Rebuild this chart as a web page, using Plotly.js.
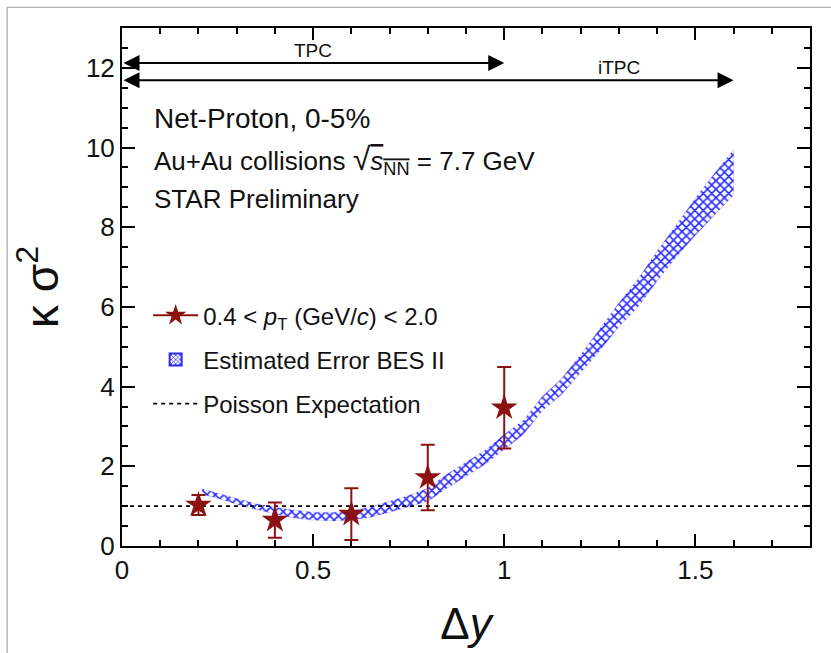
<!DOCTYPE html>
<html>
<head>
<meta charset="utf-8">
<script src="https://cdn.plot.ly/plotly-3.0.1.min.js"></script>
<style>html,body{margin:0;padding:0;background:#fff;}#chart{width:831px;height:653px;}</style>
</head>
<body>
<div id="chart"></div>
<script>
// Measured net-proton kappa*sigma^2 points
const dataX = [0.2, 0.4, 0.6, 0.8, 1.0];
const dataY = [1.03, 0.65, 0.8, 1.72, 3.47];
const dataErr = [0.25, 0.44, 0.65, 0.82, 1.02];

// Estimated error band (BES II)
const bandX = [0.21, 0.25, 0.3, 0.35, 0.4, 0.45, 0.5, 0.55, 0.6, 0.65, 0.7, 0.75, 0.8, 0.85, 0.9, 0.95, 1.0, 1.05, 1.1, 1.15, 1.2, 1.25, 1.3, 1.35, 1.4, 1.45, 1.5, 1.55, 1.6];
const bandUpper = [1.43, 1.32, 1.18, 1.06, 0.97, 0.9, 0.85, 0.84, 0.88, 0.98, 1.12, 1.27, 1.45, 1.8, 2.1, 2.4, 2.8, 3.15, 3.75, 4.2, 4.8, 5.45, 6.1, 6.7, 7.4, 8.05, 8.73, 9.35, 9.94];
const bandLower = [1.3, 1.2, 1.05, 0.92, 0.8, 0.7, 0.65, 0.63, 0.65, 0.72, 0.85, 0.98, 1.12, 1.45, 1.75, 2.05, 2.42, 2.8, 3.4, 3.8, 4.35, 4.9, 5.5, 6.0, 6.65, 7.25, 7.8, 8.3, 8.81];

// Poisson expectation
const poissonX = [0, 1.8];
const poissonY = [1, 1];

// Acceptance ranges
const tpcRange = [0, 1.0];
const itpcRange = [0, 1.6];
const tpcLevel = 12.12;
const itpcLevel = 11.69;

const red = 'rgb(140,18,18)';
const blue = 'rgb(40,40,255)';
const font = 'Liberation Sans, Arial, Helvetica, sans-serif';
const ink = '#111';

const band = {
  x: bandX.concat(bandX.slice().reverse()),
  y: bandUpper.concat(bandLower.slice().reverse()),
  type: 'scatter', mode: 'lines', fill: 'toself',
  fillcolor: 'rgba(255,255,255,0)',
  fillpattern: {shape: 'x', fgcolor: blue, bgcolor: 'rgba(255,255,255,0)', size: 6, solidity: 0.45},
  line: {color: 'rgba(40,40,255,0.35)', width: 0.5},
  showlegend: false, hoverinfo: 'skip'
};
const bandKey = {
  x: [null], y: [null], type: 'bar',
  marker: {color: 'white', pattern: {shape: 'x', fgcolor: blue, bgcolor: 'white', size: 4, solidity: 0.4},
    line: {color: blue, width: 2}},
  name: 'Estimated Error BES II', legendrank: 2, legendgroup: 'b'
};
const poisson = {
  x: poissonX, y: poissonY, type: 'scatter', mode: 'lines',
  line: {color: 'black', width: 1.8, dash: '4px,4px'},
  name: 'Poisson Expectation', legendrank: 3, legendgroup: 'c'
};
const ptLabel = '0.4 < <i>p</i><sub>T</sub> (GeV/<i>c</i>) < 2.0';
const points = {
  x: dataX, y: dataY, type: 'scatter', mode: 'markers',
  marker: {symbol: 'star', size: 20, color: red},
  error_y: {type: 'data', array: dataErr, visible: true, color: red, thickness: 2, width: 7},
  name: ptLabel, showlegend: false
};
const pointsKey = {
  x: [null], y: [null], type: 'scatter', mode: 'lines+markers',
  line: {color: red, width: 2}, marker: {symbol: 'star', size: 20, color: red},
  name: ptLabel, legendrank: 1, legendgroup: 'a'
};

function rangeArrow(r, level) {
  return {x: r[1], y: level, ax: r[0], ay: level, xref: 'x', yref: 'y', axref: 'x', ayref: 'y',
    text: '', showarrow: true, arrowhead: 2, startarrowhead: 2, arrowside: 'end+start',
    arrowwidth: 2, arrowsize: 1.6, startarrowsize: 1.6, arrowcolor: 'black', standoff: 0, startstandoff: 0};
}

const layout = {
  width: 831, height: 653,
  margin: {l: 122, r: 21, t: 28, b: 107},
  paper_bgcolor: 'white', plot_bgcolor: 'white',
  font: {family: font, color: ink},
  showlegend: true,
  legend: {x: 0.038, y: 0.488, xanchor: 'left', yanchor: 'top', bgcolor: 'rgba(0,0,0,0)',
    font: {size: 24, family: font, color: ink}, traceorder: 'grouped', tracegroupgap: 10,
    itemwidth: 45},
  xaxis: {
    range: [0, 1.8], dtick: 0.5, tick0: 0, ticks: 'inside', ticklen: 12, tickwidth: 2, tickcolor: 'black',
    minor: {dtick: 0.1, ticklen: 6, tickwidth: 2, tickcolor: 'black', ticks: 'inside'},
    showline: true, linecolor: 'black', linewidth: 2, mirror: 'allticks', showgrid: false, zeroline: false,
    tickfont: {size: 26, family: font, color: ink},
    title: {text: 'Δ<i>y</i>', font: {size: 44, family: font, color: ink}, standoff: 24}
  },
  yaxis: {
    range: [0, 13], dtick: 2, tick0: 0, ticks: 'inside', ticklen: 13, tickwidth: 2, tickcolor: 'black',
    minor: {dtick: 0.5, ticklen: 6, tickwidth: 2, tickcolor: 'black', ticks: 'inside'},
    showline: true, linecolor: 'black', linewidth: 2, mirror: 'allticks', showgrid: false, zeroline: false,
    tickfont: {size: 26, family: font, color: ink},
    title: {text: 'κ σ<sup>2</sup>', font: {size: 46, family: font, color: ink}, standoff: 13}
  },
  annotations: [
    rangeArrow(tpcRange, tpcLevel),
    rangeArrow(itpcRange, itpcLevel),
    {x: 0.5, y: tpcLevel, xref: 'x', yref: 'y', text: 'TPC', showarrow: false, yanchor: 'bottom',
      font: {size: 19, family: font, color: ink}},
    {x: 1.3, y: itpcLevel, xref: 'x', yref: 'y', text: 'iTPC', showarrow: false, yanchor: 'bottom',
      font: {size: 19, family: font, color: ink}},
    {x: 0.044, y: 0.826, xref: 'paper', yref: 'paper', xanchor: 'left', yanchor: 'middle', showarrow: false,
      text: 'Net-Proton, 0-5%', font: {size: 28, family: font, color: ink}},
    {x: 0.044, y: 0.745, xref: 'paper', yref: 'paper', xanchor: 'left', yanchor: 'middle', showarrow: false,
      text: 'Au+Au collisions <span style="font-size:32px">√</span><span style="text-decoration:overline"><i>s</i><sub>NN</sub></span> = 7.7 GeV',
      font: {size: 26, family: font, color: ink}},
    {x: 0.044, y: 0.67, xref: 'paper', yref: 'paper', xanchor: 'left', yanchor: 'middle', showarrow: false,
      text: 'STAR Preliminary', font: {size: 26, family: font, color: ink}}
  ],
  shapes: [
    {type: 'line', xref: 'paper', yref: 'paper', x0: -0.167, x1: -0.167, y0: -0.3, y1: 1.04,
      line: {color: '#999', width: 1}},
    {type: 'line', xref: 'paper', yref: 'paper', x0: -0.167, x1: 1.1, y0: 1.04, y1: 1.04,
      line: {color: '#999', width: 1}}
  ]
};

Plotly.newPlot('chart', [band, poisson, points, pointsKey, bandKey], layout, {displayModeBar: false, staticPlot: true});
</script>
</body>
</html>
